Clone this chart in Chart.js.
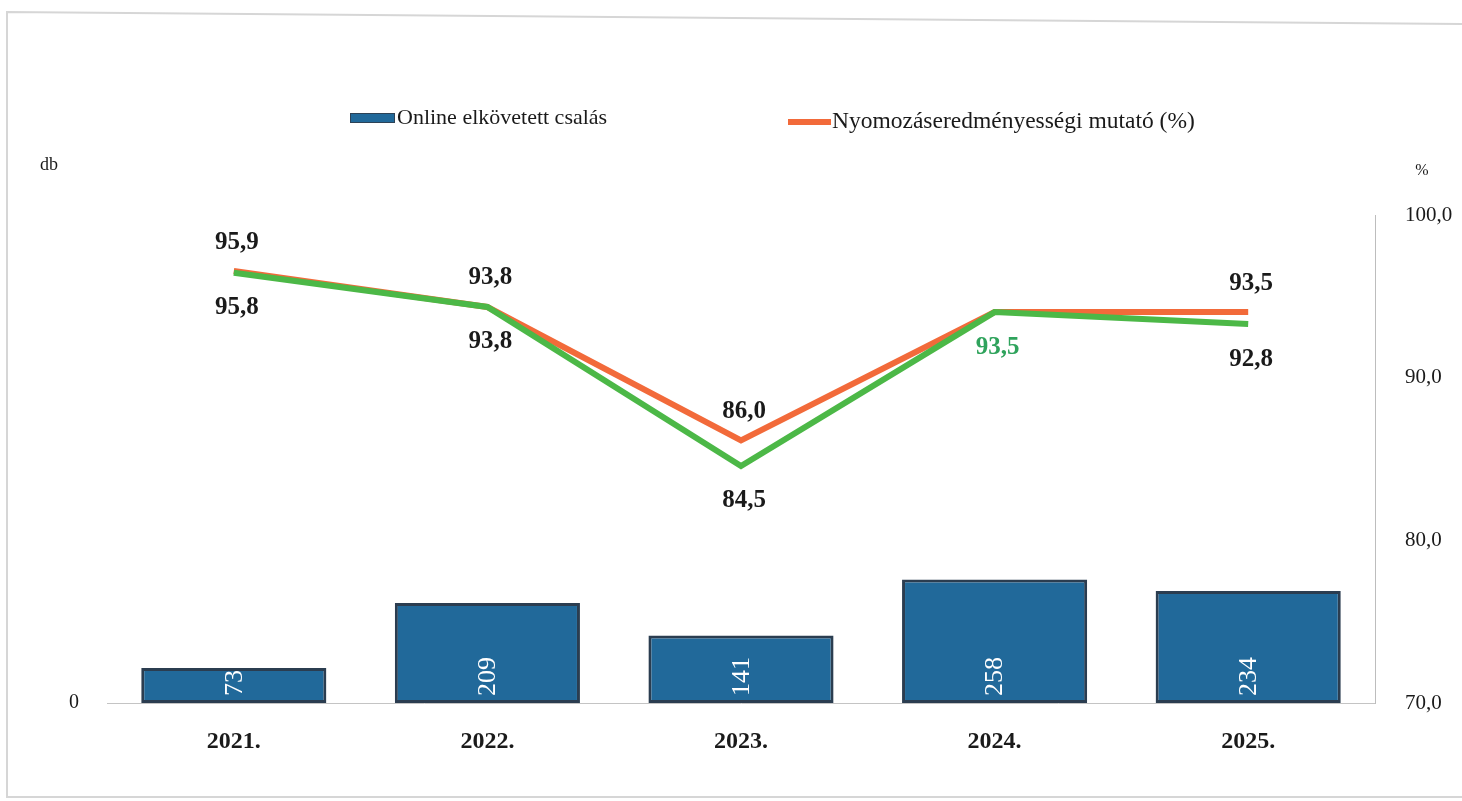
<!DOCTYPE html>
<html>
<head>
<meta charset="utf-8">
<script src="https://cdn.jsdelivr.net/npm/chart.js@4"></script>
<style>
  html, body { margin: 0; padding: 0; background: #ffffff; }
  #wrap { width: 1462px; height: 801px; position: relative; }
</style>
</head>
<body>
<div id="wrap"><canvas id="c" width="1462" height="801"></canvas></div>
<script>
// ---- data ----
const categories = ['2021.', '2022.', '2023.', '2024.', '2025.'];
const onlineFraud = [73, 209, 141, 258, 234];
const clearanceOrange = [95.9, 93.8, 86.0, 93.5, 93.5];
const clearanceGreen = [95.8, 93.8, 84.5, 93.5, 92.8];
const rightTicks = [70, 80, 90, 100];
const leftTicks = [0];
const legendBars = 'Online elkövetett csalás';
const legendLine = 'Nyomozáseredményességi mutató (%)';
const leftUnit = 'db';
const rightUnit = '%';

const SERIF = '"Liberation Serif", "Times New Roman", serif';
const BLUE = '#21699a';
const ORANGE = '#f26a3a';
const GREEN = '#4cb847';
const fmt = v => v.toFixed(1).replace('.', ',');

const decor = {
  id: 'decor',
  beforeDraw(chart) {
    const ctx = chart.ctx;
    ctx.save();
    ctx.fillStyle = '#ffffff';
    ctx.fillRect(0, 0, chart.width, chart.height);
    // frame
    ctx.strokeStyle = '#d6d6d6';
    ctx.lineWidth = 2;
    ctx.beginPath();
    ctx.moveTo(1462, 24); ctx.lineTo(7, 12); ctx.lineTo(7, 797); ctx.lineTo(1462, 797);
    ctx.stroke();
    // legend
    ctx.fillStyle = BLUE;
    ctx.fillRect(350, 113, 45, 10);
    ctx.strokeStyle = '#2d4256'; ctx.lineWidth = 1;
    ctx.strokeRect(350.5, 113.5, 44, 9);
    ctx.fillStyle = '#1a1a1a';
    ctx.textBaseline = 'middle';
    ctx.textAlign = 'left';
    ctx.font = '22px ' + SERIF;
    ctx.fillText(legendBars, 397, 118);
    ctx.fillStyle = ORANGE;
    ctx.fillRect(788, 119, 43, 6);
    ctx.fillStyle = '#1a1a1a';
    ctx.font = '23.5px ' + SERIF;
    ctx.fillText(legendLine, 832, 122);
    // unit labels
    ctx.font = '18px ' + SERIF;
    ctx.textAlign = 'center';
    ctx.fillText(leftUnit, 49, 165);
    ctx.font = '16px ' + SERIF;
    ctx.fillText(rightUnit, 1422, 171);
    ctx.restore();
  },
  afterDatasetsDraw(chart) {
    const ctx = chart.ctx;
    ctx.save();
    // bar labels (rotated, inside base)
    const barMeta = chart.getDatasetMeta(0);
    ctx.font = '26px ' + SERIF;
    ctx.fillStyle = '#ffffff';
    ctx.textBaseline = 'middle';
    ctx.textAlign = 'left';
    barMeta.data.forEach((el, i) => {
      ctx.save();
      ctx.translate(el.x, el.base - 7);
      ctx.rotate(-Math.PI / 2);
      ctx.fillText(String(onlineFraud[i]), 0, 1);
      ctx.restore();
    });
    // line labels
    ctx.font = 'bold 25px ' + SERIF;
    ctx.textAlign = 'center';
    const oMeta = chart.getDatasetMeta(1);
    oMeta.data.forEach((p, i) => {
      if (i === 3) return;
      ctx.fillStyle = '#1a1a1a';
      ctx.fillText(fmt(clearanceOrange[i]), p.x + 3, p.y - 29);
    });
    const gMeta = chart.getDatasetMeta(2);
    gMeta.data.forEach((p, i) => {
      ctx.fillStyle = i === 3 ? '#2fa35c' : '#1a1a1a';
      ctx.fillText(fmt(clearanceGreen[i]), p.x + 3, p.y + 35);
    });
    ctx.restore();
  }
};

new Chart(document.getElementById('c'), {
  data: {
    labels: categories,
    datasets: [
      {
        type: 'bar',
        label: legendBars,
        data: onlineFraud,
        yAxisID: 'y',
        backgroundColor: BLUE,
        borderColor: '#2b3d50',
        borderWidth: 3,
        borderSkipped: false,
        barPercentage: 0.73,
        categoryPercentage: 1.0,
        order: 3
      },
      {
        type: 'line',
        label: legendLine,
        data: clearanceOrange,
        yAxisID: 'yl',
        borderColor: ORANGE,
        borderWidth: 6,
        pointRadius: 0,
        tension: 0,
        fill: false,
        order: 2
      },
      {
        type: 'line',
        label: 'green',
        data: clearanceGreen,
        yAxisID: 'yl',
        borderColor: GREEN,
        borderWidth: 6,
        pointRadius: 0,
        tension: 0,
        fill: false,
        order: 1
      }
    ]
  },
  options: {
    responsive: false,
    animation: false,
    layout: { padding: { top: 215, left: 0, right: 0, bottom: 0 } },
    plugins: {
      legend: { display: false },
      tooltip: { enabled: false },
      title: { display: false }
    },
    scales: {
      x: {
        grid: { display: false },
        border: { display: true, color: '#c4c4c4', width: 1 },
        ticks: {
          color: '#1a1a1a',
          font: { family: SERIF, size: 24, weight: 'bold' },
          padding: 16,
          maxRotation: 0
        },
        afterFit: s => { s.height = 98; }
      },
      y: {
        position: 'left',
        min: 0,
        max: 1020,
        grid: { display: false },
        border: { display: false },
        afterBuildTicks: s => { s.ticks = leftTicks.map(v => ({ value: v })); },
        ticks: {
          color: '#1a1a1a',
          font: { family: SERIF, size: 20 },
          padding: 20
        },
        afterFit: s => { s.width = 107; }
      },
      yr: {
        position: 'right',
        min: 70,
        max: 100,
        grid: { display: false },
        border: { display: true, color: '#bdbdbd', width: 1 },
        afterBuildTicks: s => { s.ticks = rightTicks.map(v => ({ value: v })); },
        ticks: {
          color: '#1a1a1a',
          font: { family: SERIF, size: 21 },
          padding: 22,
          callback: v => fmt(v)
        },
        afterFit: s => { s.width = 87; }
      },
      yl: {
        display: false,
        min: 70.64,
        max: 99.18
      }
    }
  },
  plugins: [decor]
});
</script>
</body>
</html>
